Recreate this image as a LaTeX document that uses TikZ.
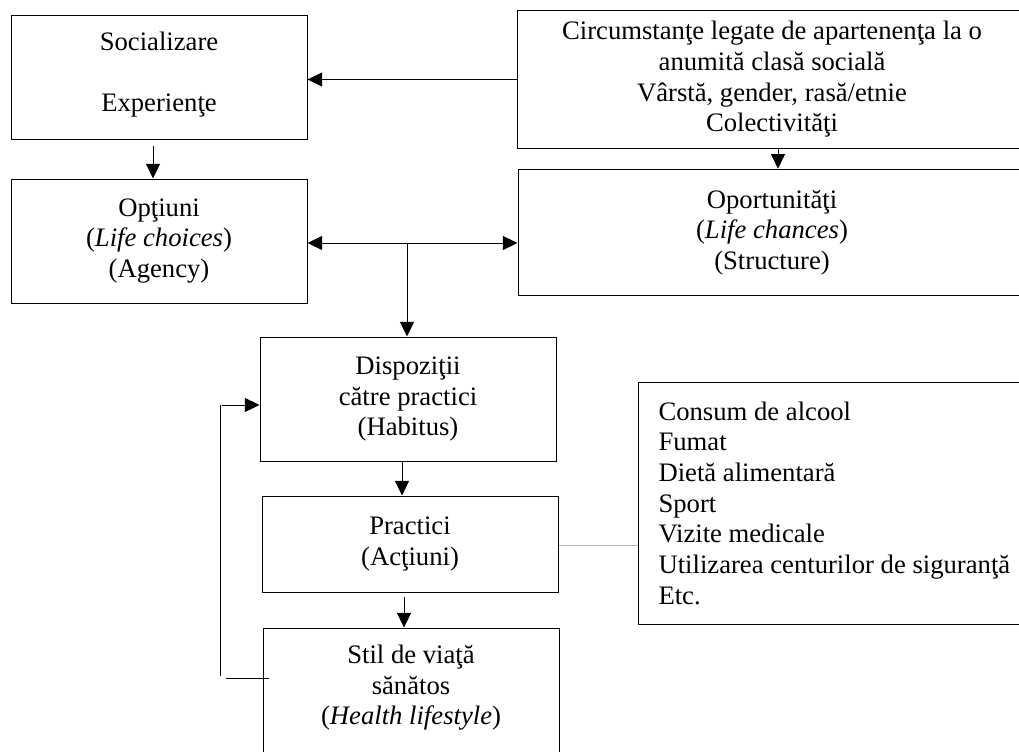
\documentclass[tikz,border=0pt]{standalone}
\usepackage{fontspec}
\setmainfont{Liberation Serif}
\usetikzlibrary{arrows.meta,positioning}

\newcommand{\lift}[1]{\rule[-#1]{0pt}{#1}}

\tikzset{
  box/.style={draw, line width=0.75pt, align=center, inner sep=0pt,
    minimum width=222pt, minimum height=93pt},
  arr/.style={-{Triangle[length=11pt,width=10.5pt]}, line width=0.75pt},
  darr/.style={{Triangle[length=11pt,width=10.5pt]}-{Triangle[length=11pt,width=10.5pt]}, line width=0.75pt},
  link/.style={line width=0.75pt},
  greylink/.style={line width=0.75pt, black!30},
}

\begin{document}
\begin{tikzpicture}[x=0.75pt,y=-0.75pt,font=\fontsize{20}{23}\selectfont]
  \useasboundingbox (0,0) rectangle (1019,751);
  \clip (0,0) rectangle (1019,751);
  \fill[white] (0,0) rectangle (1019,751);

  % left column
  \node[box] (soc) at (159,77) {Socializare\\[23pt]Experienţe\lift{7.5pt}};
  \node[box] (opt) at (159,241) {Opţiuni\\(\textit{Life choices})\\(Agency)};

  % right column
  \node[box, minimum width=382.5pt, minimum height=104pt] (circ) at (772,79.5)
    {Circumstanţe legate de apartenenţa la o\\anumită clasă socială\\Vârstă, gender, rasă/etnie\\Colectivităţi};
  \node[box, minimum width=381pt, minimum height=95pt] (opor) at (772,232.5)
    {Oportunităţi\\(\textit{Life chances})\\(Structure)};

  % middle column
  \node[box] (dispo) at (408,399) {Dispoziţii\\către practici\\(Habitus)};
  \node[box, minimum height=72pt] (pract) at (410,544) {Practici\\(Acţiuni)};
  \node[box, minimum height=96pt] (stil) at (411,692)
    {Stil de viaţă\\sănătos\\(\textit{Health lifestyle})\lift{10.5pt}};

  % list of practices
  \node[box, align=left, anchor=west, minimum width=0pt, minimum height=181.5pt,
    inner xsep=15pt] (list) at (638,503)
    {Consum de alcool\\Fumat\\Dietă alimentară\\Sport\\Vizite medicale\\Utilizarea centurilor de siguranţă\\Etc.};

  \coordinate (mid) at (407,243);
  \coordinate (fbtop) at (220,405);
  \coordinate (fbbot) at (220,676);
  \coordinate (fbend) at (226,678);

  \draw[arr] (circ.west) -- (circ.west -| soc.east);
  \draw[arr, shorten <=4.5pt] ([xshift=-4.5pt]soc.south) -- ([xshift=-4.5pt]opt.north);
  \draw[arr] ([xshift=4.5pt]circ.south) -- ([xshift=4.5pt]opor.north);
  \draw[darr] (opt.east |- mid) -- (opor.west |- mid);
  \draw[arr] (mid) -- (mid |- dispo.north);
  \draw[arr] ([xshift=-4.5pt]dispo.south) -- ([xshift=-4.5pt]dispo.south |- pract.north);
  \draw[arr, shorten <=3pt] ([xshift=-4.5pt]pract.south) -- ([xshift=-4.5pt]pract.south |- stil.north);
  \draw[greylink] (pract.east |- 0,545) -- (list.west |- 0,545);

  % feedback loop
  \draw[link] (fbbot) -- (fbtop);
  \draw[arr] ([xshift=1.5pt]fbtop) -- (fbtop -| dispo.west);
  \draw[link] (fbend) -- ([xshift=4.5pt]fbend -| stil.west);
\end{tikzpicture}
\end{document}
